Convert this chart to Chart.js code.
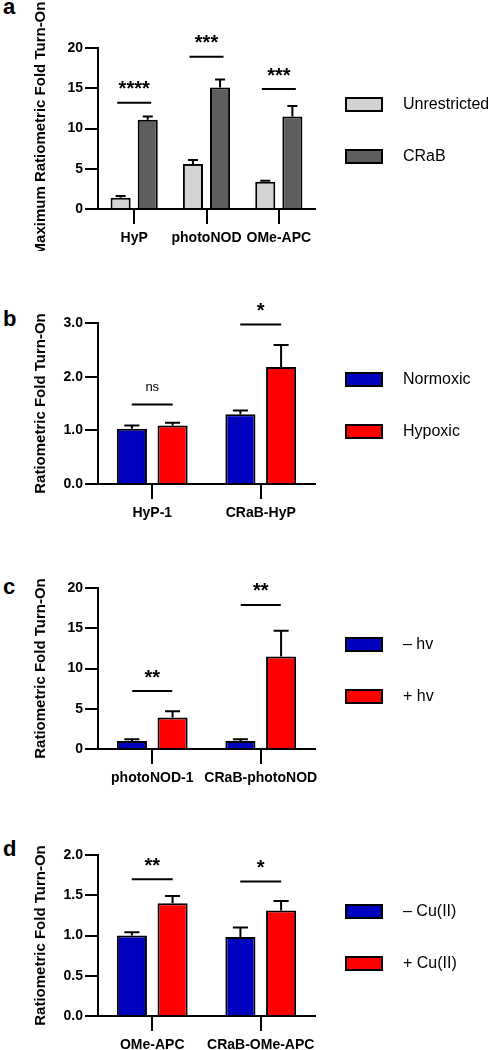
<!DOCTYPE html>
<html>
<head>
<meta charset="utf-8">
<script src="https://cdn.jsdelivr.net/npm/chart.js@4.4.1/dist/chart.umd.min.js"></script>
<style>
  body { margin: 0; width: 488px; height: 1050px; overflow: hidden; background: #fff; }
  .panel { position: absolute; left: 0; width: 488px; }
  .tag { position: absolute; left: 3px; font: bold 22px "Liberation Sans", Arial, sans-serif; line-height: 22px; color: #000; }
</style>
</head>
<body>
<div class="tag" style="top:-4px">a</div>
<div class="tag" style="top:308px">b</div>
<div class="tag" style="top:576px">c</div>
<div class="tag" style="top:838px">d</div>

<div class="panel" style="top:0;height:251px"><canvas id="chartA"></canvas></div>
<div class="panel" style="top:283px;height:243px"><canvas id="chartB"></canvas></div>
<div class="panel" style="top:548px;height:243px"><canvas id="chartC"></canvas></div>
<div class="panel" style="top:815px;height:243px"><canvas id="chartD"></canvas></div>

<script>
// panel a
const catsA = ["HyP", "photoNOD", "OMe-APC"];
const unrestricted = [1.4, 5.6, 3.4];
const unrestrictedErr = [0.2, 0.5, 0.1];
const crab = [11.1, 15.1, 11.5];
const crabErr = [0.4, 1.0, 1.3];
const sigA = ["****", "***", "***"];
const sigLevelA = [13.2, 18.9, 14.9];

// panel b
const catsB = ["HyP-1", "CRaB-HyP"];
const normoxic = [1.03, 1.30];
const normoxicErr = [0.06, 0.07];
const hypoxic = [1.09, 2.18];
const hypoxicErr = [0.05, 0.41];
const sigB = ["ns", "*"];
const sigLevelB = [1.48, 2.97];

// panel c
const catsC = ["photoNOD-1", "CRaB-photoNOD"];
const darkC = [1.0, 1.0];
const darkErrC = [0.2, 0.2];
const lightC = [3.9, 11.5];
const lightErrC = [0.8, 3.2];
const sigC = ["**", "**"];
const sigLevelC = [7.2, 17.9];

// panel d
const catsD = ["OMe-APC", "CRaB-OMe-APC"];
const noCu = [1.00, 0.98];
const noCuErr = [0.04, 0.12];
const withCu = [1.40, 1.31];
const withCuErr = [0.09, 0.12];
const sigD = ["**", "*"];
const sigLevelD = [1.70, 1.67];

const FONT = '"Liberation Sans", Arial, sans-serif';
const BLUE = "#0000bf";
const RED = "#ff0000";

const errorBars = {
    id: "errorBars",
    afterDatasetsDraw(chart) {
        const ctx = chart.ctx;
        const y = chart.scales.y;
        ctx.save();
        ctx.strokeStyle = "#000";
        ctx.lineWidth = 2;
        chart.data.datasets.forEach((ds, i) => {
            chart.getDatasetMeta(i).data.forEach((bar, j) => {
                const top = y.getPixelForValue(ds.data[j] + ds.errors[j]);
                const half = bar.width / 4;
                ctx.beginPath();
                ctx.moveTo(bar.x, bar.y);
                ctx.lineTo(bar.x, top);
                ctx.moveTo(bar.x - half, top);
                ctx.lineTo(bar.x + half, top);
                ctx.stroke();
            });
        });
        ctx.restore();
    }
};

const sigBars = {
    id: "sigBars",
    afterDraw(chart, args, opts) {
        const ctx = chart.ctx;
        const x = chart.scales.x, y = chart.scales.y;
        ctx.save();
        ctx.strokeStyle = "#000";
        ctx.fillStyle = "#000";
        ctx.lineWidth = 2;
        ctx.textAlign = "center";
        ctx.textBaseline = "middle";
        opts.labels.forEach((txt, j) => {
            const cx = x.getPixelForValue(j);
            const ly = y.getPixelForValue(opts.levels[j]);
            ctx.beginPath();
            ctx.moveTo(cx - opts.half, ly);
            ctx.lineTo(cx + opts.half, ly);
            ctx.stroke();
            if (txt === "ns") {
                ctx.font = "13px " + FONT;
                ctx.fillText(txt, cx, ly - 17);
            } else {
                ctx.font = "bold 20px " + FONT;
                ctx.fillText(txt, cx, ly - 13);
            }
        });
        ctx.restore();
    }
};

const sideLegend = {
    id: "sideLegend",
    afterDraw(chart) {
        const ctx = chart.ctx;
        const area = chart.chartArea;
        ctx.save();
        chart.data.datasets.forEach((ds, i) => {
            const cy = area.top + 56.5 + i * 52;
            const bx = area.right + 31;
            ctx.fillStyle = ds.backgroundColor;
            ctx.fillRect(bx, cy - 6.5, 36, 13);
            ctx.strokeStyle = "#000";
            ctx.lineWidth = 2;
            ctx.strokeRect(bx, cy - 6.5, 36, 13);
            ctx.fillStyle = "#000";
            ctx.font = "16px " + FONT;
            ctx.textAlign = "left";
            ctx.textBaseline = "middle";
            ctx.fillText(ds.label, bx + 57, cy);
        });
        ctx.restore();
    }
};

// y title drawn by hand so long titles are not squeezed to the axis height
const yTitle = {
    id: "yTitle",
    afterDraw(chart, args, opts) {
        const ctx = chart.ctx;
        const area = chart.chartArea;
        ctx.save();
        ctx.translate(area.left - 57, (area.top + area.bottom) / 2);
        ctx.rotate(-Math.PI / 2);
        ctx.font = "bold 15px " + FONT;
        ctx.fillStyle = "#000";
        ctx.textAlign = "center";
        ctx.textBaseline = "middle";
        ctx.fillText(opts.text, 0, 0);
        ctx.restore();
    }
};

function makePanel(id, cats, sets, yMax, step, decimals, title, sigLabels, sigLevels, half, topPad) {
    new Chart(document.getElementById(id), {
        type: "bar",
        data: {
            labels: cats,
            datasets: sets.map(s => ({
                label: s.label,
                data: s.data,
                errors: s.errors,
                backgroundColor: s.color,
                borderColor: "#000",
                borderWidth: 2,
                categoryPercentage: 0.75,
                barPercentage: 0.74
            }))
        },
        options: {
            responsive: true,
            maintainAspectRatio: false,
            animation: false,
            layout: { padding: { top: topPad, right: 173, bottom: 0, left: 0 } },
            plugins: {
                legend: { display: false },
                tooltip: { enabled: false },
                sigBars: { labels: sigLabels, levels: sigLevels, half: half },
                yTitle: { text: title }
            },
            scales: {
                x: {
                    offset: true,
                    grid: { offset: false, drawOnChartArea: false, color: "#000", lineWidth: 2, tickLength: 15 },
                    border: { color: "#000", width: 2 },
                    ticks: { color: "#000", font: { family: FONT, size: 14, weight: "bold" }, padding: 6, maxRotation: 0, autoSkip: false },
                    afterFit: s => { s.height = 42; }
                },
                y: {
                    min: 0,
                    max: yMax,
                    grid: { drawOnChartArea: false, color: "#000", lineWidth: 2, tickLength: 13 },
                    border: { color: "#000", width: 2 },
                    ticks: {
                        stepSize: step,
                        color: "#000",
                        padding: 2,
                        font: { family: FONT, size: 14, weight: "bold" },
                        callback: v => v.toFixed(decimals)
                    },
                    afterFit: s => { s.width = 98; }
                }
            }
        },
        plugins: [errorBars, sigBars, sideLegend, yTitle]
    });
}

makePanel("chartA", catsA, [
    { label: "Unrestricted", data: unrestricted, errors: unrestrictedErr, color: "#d3d3d3" },
    { label: "CRaB", data: crab, errors: crabErr, color: "#5e5e5e" }
], 20, 5, 0, "Maximum Ratiometric Fold Turn-On", sigA, sigLevelA, 17, 48);

makePanel("chartB", catsB, [
    { label: "Normoxic", data: normoxic, errors: normoxicErr, color: BLUE },
    { label: "Hypoxic", data: hypoxic, errors: hypoxicErr, color: RED }
], 3, 1, 1, "Ratiometric Fold Turn-On", sigB, sigLevelB, 20.5, 40);

makePanel("chartC", catsC, [
    { label: "\u2013 hv", data: darkC, errors: darkErrC, color: BLUE },
    { label: "+ hv", data: lightC, errors: lightErrC, color: RED }
], 20, 5, 0, "Ratiometric Fold Turn-On", sigC, sigLevelC, 20, 40);

makePanel("chartD", catsD, [
    { label: "\u2013 Cu(II)", data: noCu, errors: noCuErr, color: BLUE },
    { label: "+ Cu(II)", data: withCu, errors: withCuErr, color: RED }
], 2, 0.5, 1, "Ratiometric Fold Turn-On", sigD, sigLevelD, 20.5, 40);
</script>
</body>
</html>
